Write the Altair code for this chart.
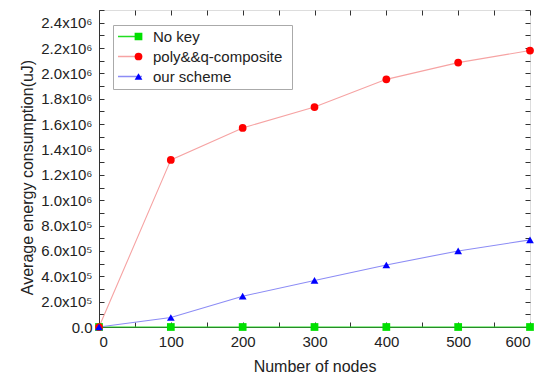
import altair as alt
import pandas as pd

nodes = [0, 100, 200, 300, 400, 500, 600]
no_key = [0, 0, 0, 0, 0, 0, 0]
poly_q = [0, 1.318e6, 1.57e6, 1.735e6, 1.953e6, 2.085e6, 2.18e6]
our_scheme = [0, 7.5e4, 2.43e5, 3.67e5, 4.89e5, 6.0e5, 6.87e5]

series = ["No key", "poly&&q-composite", "our scheme"]
marker_colors = ["#00e000", "#ff0000", "#0000ff"]
line_colors = ["#22dd22", "#f6a3a3", "#8c8cf5"]
shapes = ["square", "circle", "triangle-up"]

x_ticks = list(range(0, 601, 50))
y_ticks = [i * 1e5 for i in range(0, 26)]
y_labels = [i * 2e5 for i in range(0, 13)]

rows = []
for name, vals in zip(series, [no_key, poly_q, our_scheme]):
    for n, v in zip(nodes, vals):
        rows.append({"nodes": n, "energy": v, "series": name,
                     "line_series": name + " "})
df = pd.DataFrame(rows)
line_series = [s + " " for s in series]

W, H = 431, 317
FONT = "Liberation Sans"
FS = 15
TFS = 16

xs = alt.Scale(domain=[0, 600], nice=False)
ys = alt.Scale(domain=[0, 2.5e6], nice=False)

label_expr = ("datum.value == 0 ? '0.0' : (datum.value >= 1e6 ? "
              "format(datum.value/1e6, '.1f') + 'x10⁶' : "
              "format(datum.value/1e5, '.1f') + 'x10⁵')")

base = alt.Chart(df)

line_legend = alt.Legend(title=None, orient="none", legendX=14, legendY=15,
                         symbolType="stroke", symbolSize=576, clipHeight=15,
                         symbolStrokeWidth=1.3, labelFont=FONT, labelFontSize=FS,
                         labelExpr="''", strokeColor="#aaa",
                         padding=4, rowPadding=4, labelOffset=145)

pt_legend = alt.Legend(title=None, orient="none", legendX=28, legendY=15,
                       clipHeight=15,
                       labelFont=FONT, labelFontSize=FS, labelColor="#222",
                       padding=4, rowPadding=4, symbolSize=60, labelOffset=7)

lines = base.mark_line(strokeWidth=1.1).encode(
    x=alt.X("nodes:Q", scale=xs,
            axis=alt.Axis(title="Number of nodes", values=list(range(0, 601, 100)),
                          ticks=False, labelPadding=7, labelFontSize=FS,
                          labelFont=FONT, titleFont=FONT, titleFontSize=TFS,
                          titleFontWeight="normal", titlePadding=9,
                          labelColor="#222", titleColor="#222",
                          domainColor="#333", grid=False)),
    y=alt.Y("energy:Q", scale=ys,
            axis=alt.Axis(title="Average energy consumption(uJ)", values=y_labels,
                          labelExpr=label_expr, ticks=False, labelPadding=7,
                          labelFontSize=FS, labelFont=FONT, titleFont=FONT,
                          titleFontSize=TFS, titleFontWeight="normal",
                          titlePadding=5, titleY=167, labelColor="#222",
                          titleColor="#222", domainColor="#333", grid=False)),
    stroke=alt.Stroke("line_series:N",
                      scale=alt.Scale(domain=line_series, range=line_colors),
                      legend=line_legend),
)

points = base.mark_point(filled=True, opacity=1, size=60).encode(
    x=alt.X("nodes:Q", scale=xs,
            axis=alt.Axis(orient="top", offset=-H, labels=False, domain=False,
                          values=x_ticks, tickSize=5, tickColor="#333",
                          title=None, grid=False)),
    y=alt.Y("energy:Q", scale=ys,
            axis=alt.Axis(orient="right", offset=-W, labels=False, domain=False,
                          values=y_ticks, tickSize=5, tickColor="#333",
                          title=None, grid=False)),
    color=alt.Color("series:N", scale=alt.Scale(domain=series, range=marker_colors),
                    legend=pt_legend),
    shape=alt.Shape("series:N", scale=alt.Scale(domain=series, range=shapes),
                    legend=pt_legend),
)

mirror = base.mark_point(opacity=0).encode(
    x=alt.X("nodes:Q", scale=xs,
            axis=alt.Axis(orient="bottom", offset=-H, labels=False, domain=False,
                          values=x_ticks, tickSize=5, tickColor="#333",
                          title=None, grid=False)),
    y=alt.Y("energy:Q", scale=ys,
            axis=alt.Axis(orient="left", offset=-W, labels=False, domain=False,
                          values=y_ticks, tickSize=5, tickColor="#333",
                          title=None, grid=False)),
)

chart = alt.layer(lines, mirror, points).resolve_axis(
    x="independent", y="independent"
).properties(
    width=W, height=H,
    autosize=alt.AutoSizeParams(type="none"),
    padding={"left": 91, "top": 2, "right": 8, "bottom": 50},
).configure_view(
    stroke="#333", strokeWidth=1
).configure(background="white")

chart.save("out.html", embed_options={"renderer": "svg", "actions": False})
